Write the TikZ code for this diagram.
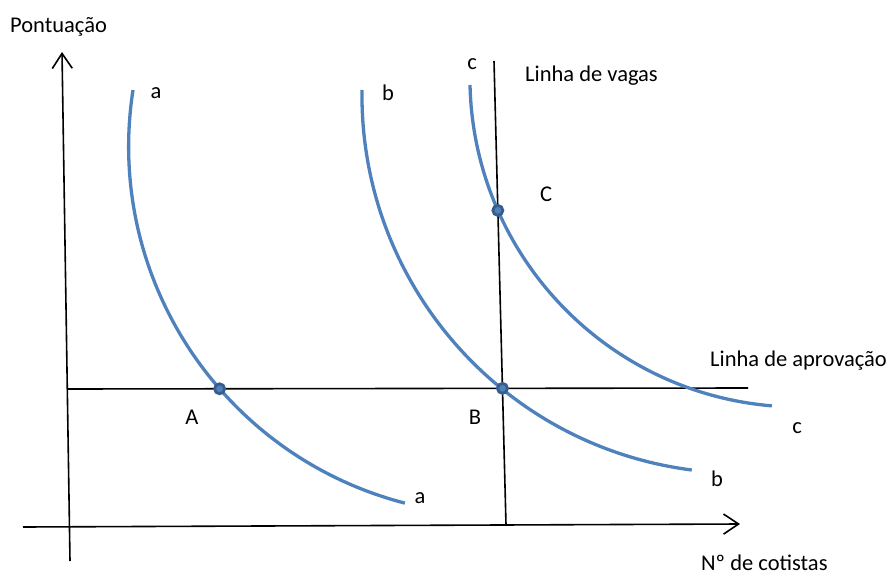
\documentclass[tikz,border=0pt]{standalone}
\usepackage{fontspec}
\setmainfont{Carlito}
\usepackage{tikz}
\usetikzlibrary{arrows.meta, intersections}
\definecolor{curveBlue}{RGB}{79, 129, 189}
\definecolor{dotRing}{RGB}{56, 93, 138}

\begin{document}
\begin{tikzpicture}[x=1pt, y=-1pt,
  axis/.style={line width=1.6pt, -{Straight Barb[length=15pt, width=20pt, line width=1.6pt]}},
  guide/.style={line width=1.6pt},
  demand/.style={curveBlue, line width=3.3pt},
  pt/.style={circle, fill=curveBlue, draw=dotRing, line width=2.8pt,
             inner sep=0pt, minimum size=10pt},
  lbl/.style={font=\fontsize{22.5}{26}\selectfont, inner sep=0pt, anchor=base},
]
  \useasboundingbox (0,0) rectangle (893,577);

  % Axes
  \coordinate (yfoot) at (70,561);
  \coordinate (ytip)  at (62,52);
  \coordinate (xfoot) at (23,527);
  \coordinate (xtip)  at (740,524);
  \draw[axis] (yfoot) -- (ytip);
  \draw[axis] (xfoot) -- (xtip);

  % Approval and vacancy lines
  \coordinate (aprL) at (67,389);
  \coordinate (aprR) at (748,388);
  \coordinate (vagT) at (494,61);
  \coordinate (vagB) at (506,525);
  \draw[guide, name path=apr] (aprL) -- (aprR);
  \draw[guide, name path=vag] (vagT) -- (vagB);

  % Curves
  \draw[demand, name path=ca] (133,90) arc[start angle=188.8, end angle=104.5, radius=368.5];
  \draw[demand, name path=cb] (362,90) arc[start angle=180.8, end angle=97.3, radius=377.8];
  \draw[demand, name path=cc] (470,85) arc[start angle=178.7, end angle=94.8, radius=329.5];

  % Equilibrium points
  \path[name intersections={of=ca and apr}] coordinate (A) at (intersection-1);
  \path[name intersections={of=vag and apr}] coordinate (B) at (intersection-1);
  \path[name intersections={of=cc and vag}] coordinate (C) at (intersection-1);
  \node[pt] (dotA) at (A) {};
  \node[pt] (dotB) at (B) {};
  \node[pt] (dotC) at (C) {};

  % Labels
  \node[lbl, anchor=base west] (ylab) at (10,33) {Pontuação};
  \node[lbl, anchor=base west] (xlab) at (701,570) {Nº de cotistas};
  \node[lbl, anchor=base west] (vaglab) at (525,82) {Linha de vagas};
  \node[lbl, anchor=base west] (aprlab) at (710,366) {Linha de aprovação};
  \node[lbl] (labA) at (192,424) {A};
  \node[lbl] (labB) at (475,424) {B};
  \node[lbl] (labC) at (546,202) {C};
  \node[lbl] (aTop) at (156,99) {a};
  \node[lbl] (aBot) at (420,503) {a};
  \node[lbl] (bTop) at (388,101) {b};
  \node[lbl] (bBot) at (717,486) {b};
  \node[lbl] (cTop) at (472,70) {c};
  \node[lbl] (cBot) at (797,433) {c};
\end{tikzpicture}
\end{document}
